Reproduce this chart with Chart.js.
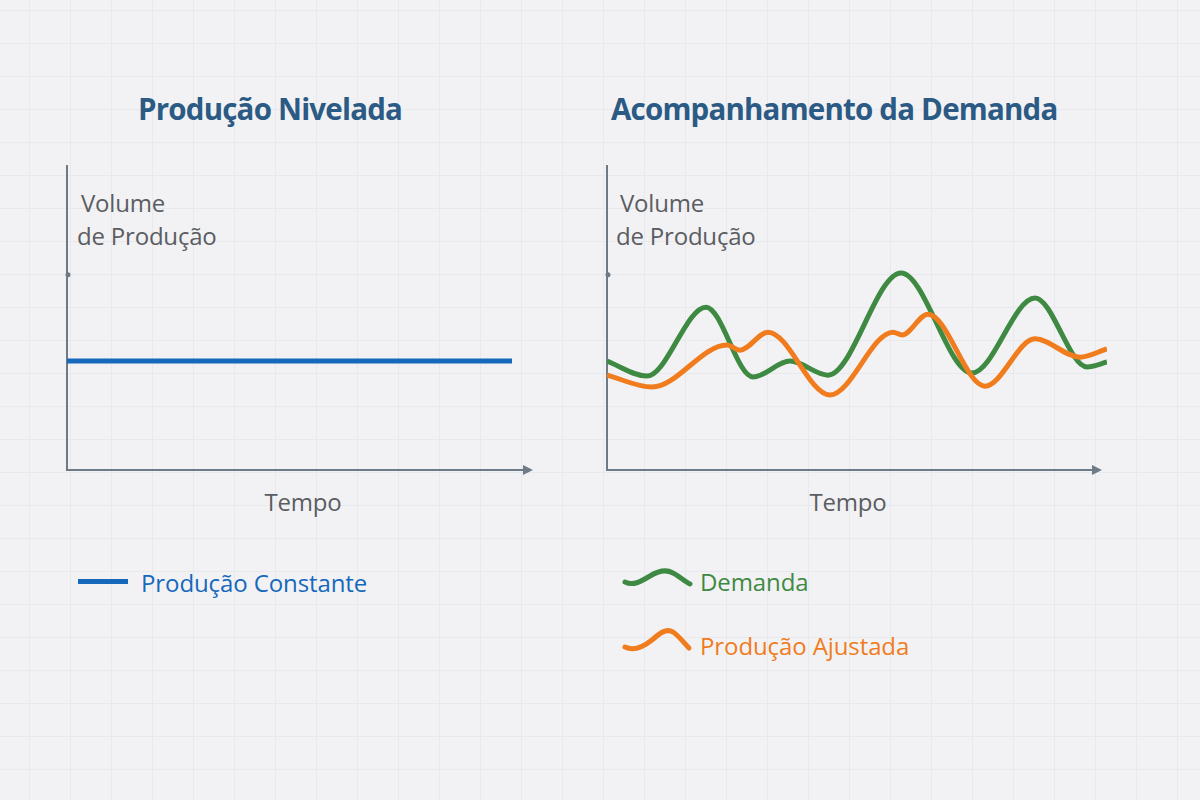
<!DOCTYPE html>
<html>
<head>
<meta charset="utf-8">
<script src="https://cdn.jsdelivr.net/npm/chart.js@4.4.1/dist/chart.umd.min.js"></script>
<style>
  html, body { margin: 0; padding: 0; }
  body {
    width: 1200px; height: 800px; position: relative; overflow: hidden;
    background-color: #f2f2f4;
    background-image:
      linear-gradient(to right, #e8e9ec 1px, transparent 1px),
      linear-gradient(to bottom, #e8e9ec 1px, transparent 1px);
    background-size: 41px 33px;
    background-position: 29px 10px;
    font-family: "Open Sans", "Noto Sans", sans-serif;
  }
  .t { position: absolute; line-height: 1; white-space: nowrap; }
  .title { font-size: 29.5px; font-weight: 700; color: #2b5a85; letter-spacing: -0.8px; }
  .lbl { font-size: 24px; color: #5b5d62; letter-spacing: -0.2px; }
  .leg { font-size: 24px; letter-spacing: -0.1px; }
  canvas { position: absolute; }
</style>
</head>
<body>
<div class="t title" id="t1" style="top:94px;">Produção Nivelada</div>
<div class="t title" id="t2" style="top:94px;">Acompanhamento da Demanda</div>

<div class="t lbl" style="left:81px; top:191px;">Volume</div>
<div class="t lbl" style="left:77px; top:224px;">de Produção</div>
<div class="t lbl" style="left:620px; top:191px;">Volume</div>
<div class="t lbl" style="left:616px; top:224px;">de Produção</div>

<div class="t lbl" id="x1" style="top:490px;">Tempo</div>
<div class="t lbl" id="x2" style="top:490px;">Tempo</div>

<div style="position:absolute; left:78px; top:579px; width:50px; height:5px; background:#1668bd;"></div>
<div class="t leg" style="left:141px; top:571px; color:#1668bd;">Produção Constante</div>

<svg style="position:absolute; left:620px; top:563px;" width="75" height="32">
  <path d="M5,19 C13,23 20,19 30,13 C38,8 46,6 53,10 C59,13 64,18 70,21" fill="none" stroke="#3f8a43" stroke-width="5" stroke-linecap="round"/>
</svg>
<div class="t leg" style="left:700px; top:570px; color:#3f8a43;">Demanda</div>

<svg style="position:absolute; left:620px; top:623px;" width="75" height="34">
  <path d="M5,24 C13,28 22,25 32,17 C40,10 46,5 53,9 C59,13 64,20 69,25" fill="none" stroke="#f07c1e" stroke-width="5" stroke-linecap="round"/>
</svg>
<div class="t leg" style="left:700px; top:634px; color:#f07c1e;">Produção Ajustada</div>

<canvas id="left" width="520" height="340" style="left:40px; top:150px;"></canvas>
<canvas id="right" width="560" height="340" style="left:580px; top:150px;"></canvas>

<script>
// left chart: constant production
const niveladaX = [0, 100];
const niveladaY = [35.7, 35.7];

// right chart: demand vs adjusted production
const demandaX = [0, 8, 19.8, 29.2, 36.6, 44.2, 58.8, 73, 85.6, 96, 100];
const demandaY = [35.7, 30.8, 53.4, 30.5, 35.7, 31.1, 64.6, 31.8, 56.4, 33.8, 35.4];
const ajustadaX = [0, 9, 24, 26.6, 32.2, 44.6, 57.2, 59, 64.2, 75.6, 85.6, 94.6, 100];
const ajustadaY = [31.1, 27.2, 41.0, 39.3, 45.2, 24.6, 45.2, 44.3, 51.1, 27.5, 43.0, 37.0, 39.7];

const pts = (xs, ys) => xs.map((x, i) => ({ x: x, y: ys[i] }));

// axes with arrow, drawn under the lines
const axesPlugin = {
  id: 'axes',
  beforeDatasetsDraw(chart, args, opts) {
    const { ctx, chartArea } = chart;
    const l = chartArea.left, b = chartArea.bottom, t = chartArea.top;
    const end = l + opts.length;
    ctx.save();
    ctx.strokeStyle = '#6f7a87';
    ctx.fillStyle = '#6f7a87';
    ctx.lineWidth = 2;
    ctx.beginPath();
    ctx.moveTo(l, t);
    ctx.lineTo(l, b);
    ctx.lineTo(end - 8, b);
    ctx.stroke();
    ctx.beginPath();
    ctx.moveTo(end, b);
    ctx.lineTo(end - 10, b - 5);
    ctx.lineTo(end - 10, b + 5);
    ctx.closePath();
    ctx.fill();
    ctx.beginPath();
    ctx.arc(l + 1, chart.scales.y.getPixelForValue(64), 2.5, 0, Math.PI * 2);
    ctx.fill();
    ctx.restore();
  }
};

function baseOptions(axisLen, padRight) {
  return {
    responsive: false,
    animation: false,
    layout: { padding: { left: 27, top: 15, right: padRight, bottom: 20 } },
    plugins: { legend: { display: false }, tooltip: { enabled: false }, axes: { length: axisLen } },
    elements: { point: { radius: 0 } },
    scales: {
      x: { type: 'linear', min: 0, max: 100, display: false },
      y: { min: 0, max: 100, display: false }
    }
  };
}

new Chart(document.getElementById('left'), {
  type: 'line',
  data: {
    datasets: [{
      label: 'Produção Constante',
      data: pts(niveladaX, niveladaY),
      borderColor: '#1668bd',
      borderWidth: 5,
      borderCapStyle: 'butt'
    }]
  },
  options: baseOptions(466, 48),
  plugins: [axesPlugin]
});

new Chart(document.getElementById('right'), {
  type: 'line',
  data: {
    datasets: [
      {
        label: 'Produção Ajustada',
        data: pts(ajustadaX, ajustadaY),
        borderColor: '#f07c1e',
        borderWidth: 5,
        cubicInterpolationMode: 'monotone'
      },
      {
        label: 'Demanda',
        data: pts(demandaX, demandaY),
        borderColor: '#3f8a43',
        borderWidth: 5,
        cubicInterpolationMode: 'monotone'
      }
    ]
  },
  options: baseOptions(495, 33),
  plugins: [axesPlugin]
});

// center titles and x labels
function centerAt(id, cx) {
  const el = document.getElementById(id);
  el.style.left = (cx - el.offsetWidth / 2) + 'px';
}
centerAt('t1', 270);
centerAt('t2', 834);
centerAt('x1', 303);
centerAt('x2', 848);
</script>
</body>
</html>
